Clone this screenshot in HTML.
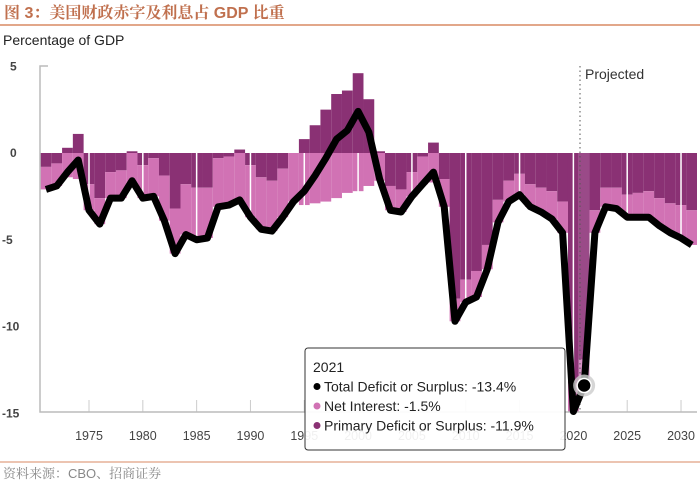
<!DOCTYPE html>
<html><head><meta charset="utf-8"><style>
body{margin:0;background:#fff;width:700px;height:483px;overflow:hidden;font-family:"Liberation Sans","Noto Sans CJK SC",sans-serif}
</style></head><body>
<svg width="700" height="483" xmlns="http://www.w3.org/2000/svg">
<text x="4" y="18" font-size="16" font-weight="bold" fill="#c0704e" font-family="Liberation Sans, Noto Serif CJK SC, serif">图 3：美国财政赤字及利息占 GDP 比重</text>
<line x1="0" y1="25" x2="700" y2="25" stroke="#d98a63" stroke-width="1.5"/>
<text x="3" y="45" font-size="14" fill="#222">Percentage of GDP</text>
<g id="plot"></g>
<line x1="0" y1="462" x2="700" y2="462" stroke="#d98a63" stroke-width="1"/>
<text x="3" y="478" font-size="13" fill="#888" font-family="Liberation Sans, Noto Serif CJK SC, serif">资料来源：CBO、招商证券</text>
</svg>
<script>
const years=[1971,1972,1973,1974,1975,1976,1977,1978,1979,1980,1981,1982,1983,1984,1985,1986,1987,1988,1989,1990,1991,1992,1993,1994,1995,1996,1997,1998,1999,2000,2001,2002,2003,2004,2005,2006,2007,2008,2009,2010,2011,2012,2013,2014,2015,2016,2017,2018,2019,2020,2021,2022,2023,2024,2025,2026,2027,2028,2029,2030,2031];
const totalDeficit=[-2.1,-1.9,-1.1,-0.4,-3.3,-4.1,-2.6,-2.6,-1.6,-2.6,-2.5,-3.9,-5.8,-4.7,-5.0,-4.9,-3.1,-3.0,-2.7,-3.7,-4.4,-4.5,-3.7,-2.8,-2.2,-1.3,-0.3,0.8,1.3,2.4,1.2,-1.5,-3.3,-3.4,-2.5,-1.8,-1.1,-3.1,-9.7,-8.6,-8.3,-6.7,-4.0,-2.8,-2.4,-3.1,-3.4,-3.8,-4.6,-14.9,-13.4,-4.6,-3.1,-3.2,-3.7,-3.7,-3.7,-4.2,-4.6,-4.9,-5.3];
const netInterest=[1.3,1.3,1.4,1.5,1.5,1.5,1.5,1.6,1.7,1.9,2.2,2.6,2.6,2.9,3.0,2.9,2.8,2.8,2.9,3.0,3.0,2.9,2.8,2.8,3.0,2.9,2.8,2.6,2.3,2.2,1.9,1.6,1.4,1.3,1.4,1.6,1.7,1.6,1.3,1.3,1.5,1.4,1.3,1.2,1.2,1.3,1.4,1.6,1.8,1.6,1.5,1.3,1.1,1.2,1.3,1.4,1.5,1.6,1.7,1.9,2.0];
const primaryDeficit=totalDeficit.map((t,i)=>+(t+netInterest[i]).toFixed(1));
const yTicks=[5,0,-5,-10,-15];
const xTicks=[1975,1980,1985,1990,1995,2000,2005,2010,2015,2020,2025,2030];
const NS="http://www.w3.org/2000/svg";
const g=document.getElementById('plot');
const X=yr=>89+(yr-1975)*10.764;
const Y=v=>153-v*17.35;
function el(t,a,p){const e=document.createElementNS(NS,t);for(const k in a)e.setAttribute(k,a[k]);(p||g).appendChild(e);return e;}
years.forEach((yr,i)=>{
  const x0=Math.max(40,X(yr-0.5)),x1=Math.min(697,X(yr+0.5));
  const p=primaryDeficit[i],n=netInterest[i];
  const hov=yr===2021;
  const dark=hov?'#9a4a88':'#8a3174',pink=hov?'#d890c6':'#d172b4';
  let b=el('rect',{x:x0,width:x1-x0,y:Math.min(Y(0),Y(p)),height:Math.abs(Y(p)-Y(0)),fill:dark});
  
  
  const top=p<0?p:0;
  let r=el('rect',{x:x0,width:x1-x0,y:Y(top),height:n*17.35,fill:pink});
  
  
});
xTicks.forEach(t=>{
  let l=el('line',{x1:X(t),x2:X(t),y1:153,y2:412,stroke:'#fff','stroke-width':1.5});
  
  
  let k=el('line',{x1:X(t),x2:X(t),y1:400,y2:412,stroke:'#ccc'});
  
  
  let tx=el('text',{x:X(t),y:440,'font-size':12.5,fill:'#444','text-anchor':'middle'});
  tx.textContent=t;
  
  
});
yTicks.forEach(v=>{
  let tx=el('text',{x:v<0?2:10,y:Y(v)+4,'font-size':12,'font-weight':'bold',fill:'#444'});
  tx.textContent=v;
  
  
});
let ax=el('path',{d:'M48 66H40V412H697',fill:'none',stroke:'#bbb','stroke-width':1.5});


let pl=el('line',{x1:580,x2:580,y1:66,y2:412,stroke:'#555','stroke-dasharray':'1.5 3'});


let pt=el('text',{x:585,y:79,'font-size':14,fill:'#333'});pt.textContent='Projected';


let line=el('polyline',{points:years.map((yr,i)=>X(yr)+','+Y(totalDeficit[i])).join(' '),fill:'none',stroke:'#000','stroke-width':7,'stroke-linejoin':'round'});


const hi=years.indexOf(2021);
let halo=el('circle',{cx:X(2021),cy:Y(totalDeficit[hi]),r:11,fill:'#ccc',opacity:0.8});


let dot=el('circle',{cx:X(2021),cy:Y(totalDeficit[hi]),r:7,fill:'#000',stroke:'#fff','stroke-width':1.5});


let tip=el('g',{});


el('rect',{x:305,y:348,width:260,height:102,rx:3,fill:'#fff','fill-opacity':0.92,stroke:'#333','stroke-width':1},tip);
const tl=[['2021',null],['Total Deficit or Surplus: -'+Math.abs(totalDeficit[hi])+'%','#000'],['Net Interest: -'+netInterest[hi]+'%','#d172b4'],['Primary Deficit or Surplus: -'+Math.abs(primaryDeficit[hi])+'%','#8a3174']];
tl.forEach((r,i)=>{const yy=372+i*19.5;
  if(r[1])el('circle',{cx:317,cy:yy-5,r:3.5,fill:r[1]},tip);
  const t=el('text',{x:r[1]?324:313,y:yy,'font-size':14,fill:'#222'},tip);t.textContent=r[0];});
</script>
</body></html>
